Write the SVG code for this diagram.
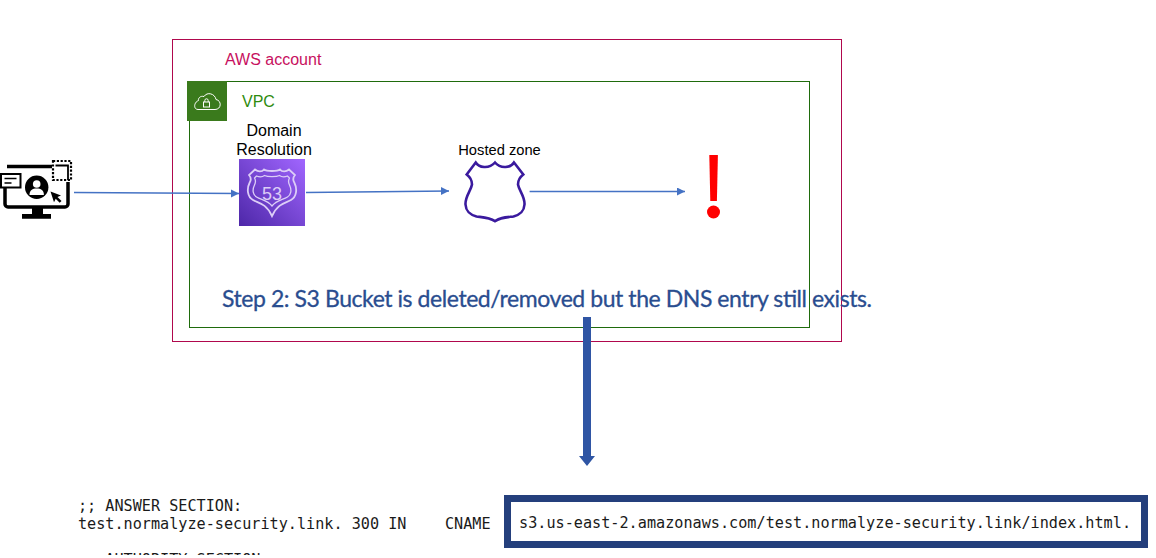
<svg xmlns="http://www.w3.org/2000/svg" width="1156" height="558" viewBox="0 0 1156 558">
<style>
.sans{font-family:"Liberation Sans",Arial,sans-serif}
.mono{font-family:"DejaVu Sans Mono","Liberation Mono",monospace;font-size:15.17px;fill:#1a1a1a}
.conn{stroke:#4472c4;stroke-width:1.3;fill:none;marker-end:url(#tip)}
</style>
<defs>
<marker id="tip" markerUnits="userSpaceOnUse" markerWidth="9" markerHeight="9" refX="8" refY="4" orient="auto"><path d="M0 0L8 4L0 8z" fill="#4472c4"/></marker>
<linearGradient id="s3" x1="0" y1="1" x2="1" y2="0"><stop offset="0" stop-color="#4d27a8"/><stop offset="1" stop-color="#a166ff"/></linearGradient>
</defs>
<rect width="1156" height="558" fill="#fff"/>
<g id="aws-account"><rect x="172.500" y="39.500" width="669" height="302" fill="none" stroke="#b0084d" stroke-width="1"/>
<text class="sans" x="225" y="65" font-size="16" fill="#c7105e">AWS account</text></g>
<g id="vpc"><rect x="189.500" y="81.500" width="620" height="246" fill="none" stroke="#1f6b0c" stroke-width="1"/>
<rect x="187" y="81" width="40" height="40" fill="#3a7a1c"/>
<path d="M198 109.500h17c6.500 0 7-9 1-10c-1-6-9-8-12-3c-4-1-6 2-5.500 4c-5 2-5 9 -.5 9z" fill="none" stroke="#fff" stroke-width="1"/>
<rect x="203.500" y="102" width="6" height="5" fill="none" stroke="#fff" stroke-width="1"/><path d="M204.800 102v-1.500a1.700 1.700 0 0 1 3.400 0v1.500" fill="none" stroke="#fff" stroke-width="1"/>
<text class="sans" x="242" y="107" font-size="16" fill="#2e8b0e">VPC</text></g>
<g id="user"><path d="M7 166.500H52M68 182V204a3 3 0 0 1-3 3H8a3 3 0 0 1-3-3V188" fill="none" stroke="#000" stroke-width="3.500"/>
<path d="M32 208h11v6h8v4.700H22v-4.700h10z" fill="#000"/>
<rect x="53" y="161" width="18" height="19" fill="none" stroke="#000" stroke-width="2.200" stroke-dasharray="2.200 1.600"/>
<path d="M55.500 165.500H68V180" fill="none" stroke="#000" stroke-width="1.800"/>
<rect x="1" y="174" width="19.500" height="13.500" fill="#fff" stroke="#000" stroke-width="2"/><path d="M4.500 178.500h12M4.500 183h7" stroke="#000" stroke-width="1.600"/>
<circle cx="36.700" cy="187.300" r="11.700" fill="#000"/><circle cx="36.700" cy="184" r="3.800" fill="#fff"/><path d="M29.500 195c0-5 3-6.500 7.200-6.500s7.200 1.500 7.200 6.500z" fill="#fff"/>
<path d="M50.500 191.500l10.500 4l-3.500 1.500l4 4l-1.800 1.800l-4-4l-1.700 3.500z" fill="#000"/></g>
<g id="domain-resolution"><rect x="239" y="159" width="66" height="67" fill="url(#s3)"/>
<path d="M255 169.500c3 2.500 7 2.500 9 0c2.500 2 13.500 2 16 0c2 2.500 6 2.500 9 0l6 5.500c-2.500 3-2.500 5-.5 8c3 6 2 14-3.500 17c-5 3-13 3-19 16c-6-13-14-13-19-16c-5.500-3-6.500-11-3.500-17c2-3 2-5-.5-8z" fill="none" stroke="#dccdf7" stroke-width="1.800"/>
<path d="M256.500 176c2.500 1 6 1 8-.5c3 1.500 12 1.500 15 0c2 1.500 5.500 1.500 8 .5l2 2c-1.500 2.500-1.500 4 0 7c2.500 5 1.500 10-2 12c-5 3-11 3-15.500 9c-4.500-6-10.500-6-15.500-9c-3.500-2-4.500-7-2-12c1.500-3 1.500-4.500 0-7z" fill="none" stroke="#dccdf7" stroke-width="1.300"/>
<text class="sans" x="272" y="200" font-size="18" fill="#dccdf7" text-anchor="middle">53</text>
<text class="sans" x="274" y="136" font-size="16" fill="#000" text-anchor="middle">Domain</text>
<text class="sans" x="274" y="155" font-size="16" fill="#000" text-anchor="middle">Resolution</text></g>
<g id="hosted-zone"><path d="M475.700 162.500c3 5 13 7 19.300 0c6 7 16 5 19 0l9.300 12c-4 3-5.300 6-5.300 10c1 6 7 12 6.500 20c-.5 7-4 10-11 12c-9 1-13 1-18.500 4.700c-5.500-3.700-10-3.700-18.500-4.700c-7-2-10.500-5-11-12c-.5-8 5.500-14 6.500-20c0-4-1.300-7-5.300-10z" fill="#fff" stroke="#3a1a9e" stroke-width="2.600" stroke-linejoin="miter"/>
<text class="sans" x="499.500" y="155" font-size="14.700" fill="#000" text-anchor="middle">Hosted zone</text></g>
<g id="alert"><path d="M709.300 155h8.600l-1 46h-6.600z" fill="#f00"/><circle cx="713.500" cy="212" r="6.500" fill="#f00"/></g>
<g id="connectors">
<path class="conn" d="M74 192.500L239 193.500"/>
<path class="conn" d="M306 192.500L449 191"/>
<path class="conn" d="M529.600 191.500H685"/>
<path d="M583 317h8v139h4l-8 10l-8-10h4z" fill="#2f55a4"/>
</g>
<text id="step" x="222" y="307" font-size="23" fill="#2a4d8f" stroke="#2a4d8f" stroke-width=".3" style="font-family:Lato,'Liberation Sans',sans-serif" textLength="650" lengthAdjust="spacing">Step 2: S3 Bucket is deleted/removed but the DNS entry still exists.</text>
<g id="dns">
<text class="mono" x="78" y="511">;; ANSWER SECTION:</text>
<text class="mono" x="78" y="529">test.normalyze-security.link. 300 IN</text>
<text class="mono" x="445" y="529">CNAME</text>
<text class="mono" x="78" y="565">;; AUTHORITY SECTION:</text>
<rect x="60" y="555" width="300" height="3" fill="#fff"/>
<rect x="507.500" y="498.500" width="637" height="46" fill="#fff" stroke="#243f7c" stroke-width="7"/>
<text class="mono" x="519" y="528" textLength="612">s3.us-east-2.amazonaws.com/test.normalyze-security.link/index.html.</text>
</g>
</svg>
